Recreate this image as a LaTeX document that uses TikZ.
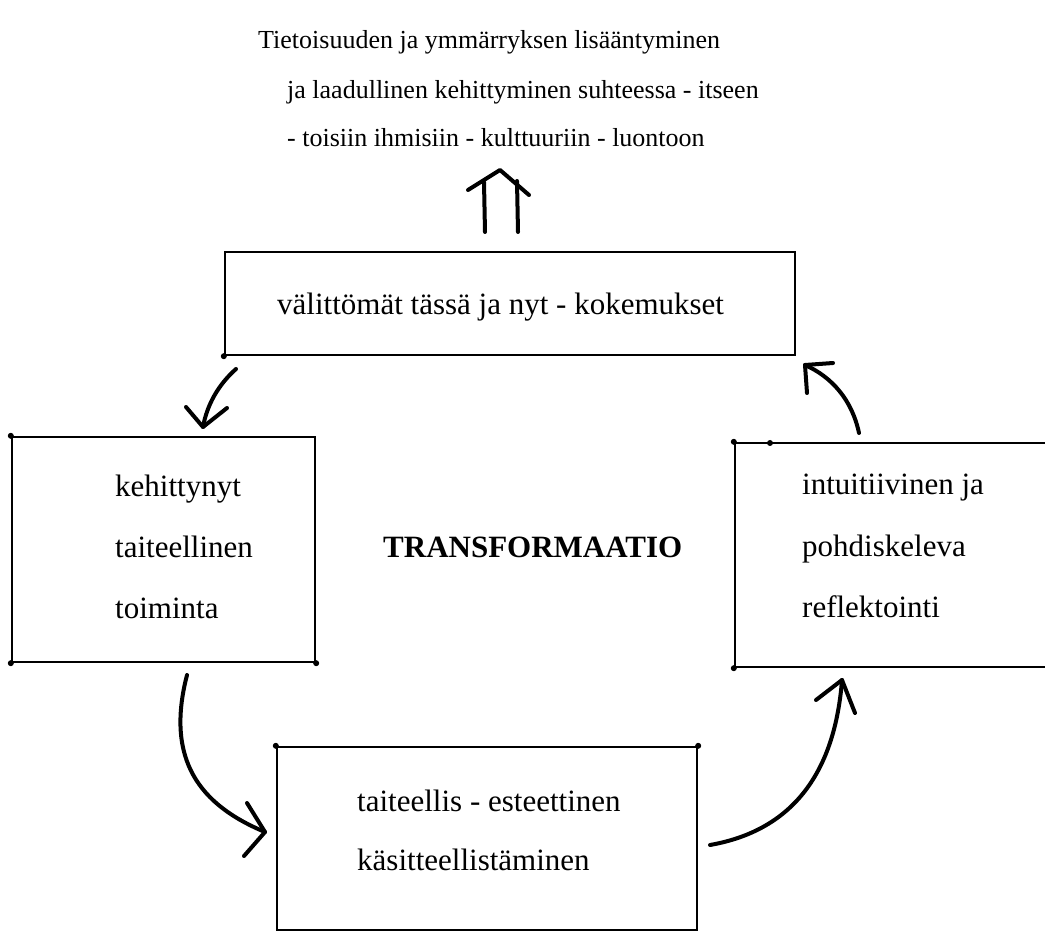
\documentclass[tikz,border=0pt]{standalone}
\usepackage{fontspec}
\setmainfont{Liberation Serif}
\begin{document}
\begin{tikzpicture}[x=1pt,y=-1pt,
  boxframe/.style={draw,line width=2.4pt,rectangle,inner sep=0pt},
  txt/.style={anchor=base west,inner sep=0pt,font=\fontsize{31}{36}\selectfont},
  headtxt/.style={anchor=base west,inner sep=0pt,font=\fontsize{26}{30}\selectfont},
  bigtxt/.style={anchor=base west,inner sep=0pt,font=\fontsize{31}{36}\selectfont\bfseries},
  hand/.style={line width=4pt,line cap=round,line join=round},
  cornerdot/.style={fill,circle,inner sep=0pt,minimum size=6pt}]
\useasboundingbox (0,0) rectangle (1045,949);
\fill[white] (0,0) rectangle (1045,949);

% top text
\node[headtxt] (t1) at (258,49) {Tietoisuuden ja ymmärryksen lisääntyminen};
\node[headtxt] (t2) at (287,99) {ja laadullinen kehittyminen suhteessa - itseen};
\node[headtxt] (t3) at (287,147) {- toisiin ihmisiin - kulttuuriin - luontoon};

% boxes
\node[boxframe,minimum width=570pt,minimum height=103pt] (top) at (510,303.5) {};
\node[boxframe,minimum width=303pt,minimum height=225pt] (left) at (163.5,549.5) {};
\node[boxframe,minimum width=330pt,minimum height=224pt] (right) at (900,555) {};
\node[boxframe,minimum width=420pt,minimum height=183pt] (bottom) at (487,838.5) {};

% corner dots
\node[cornerdot] (d1) at (left.north west) {};
\node[cornerdot] (d2) at (left.south west) {};
\node[cornerdot] (d3) at (left.south east) {};
\node[cornerdot] (d4) at (right.north west) {};
\node[cornerdot] (d5) at (770,443) {};
\node[cornerdot] (d6) at (right.south west) {};
\node[cornerdot] (d7) at (bottom.north west) {};
\node[cornerdot] (d8) at (bottom.north east) {};
\node[cornerdot] (d9) at (top.south west) {};

% box texts
\node[txt] (tt) at (277,315) {välittömät tässä ja nyt - kokemukset};
\node[txt] (l1) at (115,497) {kehittynyt};
\node[txt] (l2) at (115,558) {taiteellinen};
\node[txt] (l3) at (115,618) {toiminta};
\node[txt] (r1) at (802,495) {intuitiivinen ja};
\node[txt] (r2) at (802,557) {pohdiskeleva};
\node[txt] (r3) at (802,617) {reflektointi};
\node[txt] (b1) at (357,811) {taiteellis - esteettinen};
\node[txt] (b2) at (357,870) {käsitteellistäminen};
\node[bigtxt] (tr) at (383,558) {TRANSFORMAATIO};

% double arrow up
\coordinate (ds1) at (485,232); \coordinate (de1) at (484,182);
\coordinate (ds2) at (518,232); \coordinate (de2) at (517,181);
\coordinate (dl) at (468,190); \coordinate (dtip) at (500,170); \coordinate (dr) at (529,195);
\draw[hand] (ds1) -- (de1);
\draw[hand] (ds2) -- (de2);
\draw[hand] (dl) -- (dtip) -- (dr);

% arrow 1: top -> left
\coordinate (a1s) at (236,369); \coordinate (a1t) at (203,427);
\coordinate (a1l) at (186,407); \coordinate (a1r) at (227,408);
\draw[hand] (a1s) .. controls (218,385) and (207,405) .. (a1t);
\draw[hand] (a1l) -- (a1t) -- (a1r);

% arrow 2: left -> bottom
\coordinate (a2s) at (187,675); \coordinate (a2t) at (265,832);
\coordinate (a2l) at (247,803); \coordinate (a2r) at (244,856);
\draw[hand] (a2s) .. controls (165,760) and (200,805) .. (a2t);
\draw[hand] (a2l) -- (a2t) -- (a2r);

% arrow 3: bottom -> right
\coordinate (a3s) at (710,845); \coordinate (a3t) at (842,680);
\coordinate (a3l) at (816,700); \coordinate (a3r) at (855,713);
\draw[hand] (a3s) .. controls (795,830) and (835,770) .. (a3t);
\draw[hand] (a3l) -- (a3t) -- (a3r);

% arrow 4: right -> top
\coordinate (a4s) at (859,433); \coordinate (a4t) at (805,365);
\coordinate (a4l) at (833,363); \coordinate (a4r) at (807,393);
\draw[hand] (a4s) .. controls (852,400) and (832,377) .. (a4t);
\draw[hand] (a4l) -- (a4t) -- (a4r);
\end{tikzpicture}
\end{document}
